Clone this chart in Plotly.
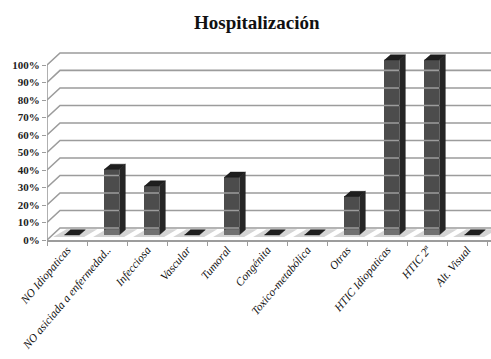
import plotly.graph_objects as go

categories = ["NO Idiopaticas", "NO asiciada a enfermedad..", "Infecciosa", "Vascular",
              "Tumoral", "Congénita", "Toxico-metabólica", "Otras",
              "HTIC Idiopaticas", "HTIC 2ª", "Alt. Visual"]
values = [0.0, 0.375, 0.28, 0.0, 0.33, 0.0, 0.0, 0.22, 1.0, 1.0, 0.0]
y_ticks = [0.0, 0.1, 0.2, 0.3, 0.4, 0.5, 0.6, 0.7, 0.8, 0.9, 1.0]
y_tick_labels = ["0%", "10%", "20%", "30%", "40%", "50%", "60%", "70%", "80%", "90%", "100%"]

# 3D look parameters (data units)
X_MIN, X_MAX = -0.5, 10.6
BAR_W = 0.375
BAR_OFF = 0.12
DX, DY = 0.15, 0.029
BASE = 0.029
WALL_DX, WALL_DY = 0.325, 0.069
GRID_COLOR = "#9c9c9c"

xs = list(range(len(categories)))
fig = go.Figure()

# back wall gridlines with left-side perspective diagonals
for v in y_ticks:
    fig.add_trace(go.Scatter(
        x=[X_MIN, X_MIN + WALL_DX, X_MAX], y=[v, v + WALL_DY, v + WALL_DY],
        mode="lines", line=dict(color=GRID_COLOR, width=1.6),
        hoverinfo="skip", showlegend=False))

# front vertical axis line
fig.add_trace(go.Scatter(x=[X_MIN, X_MIN], y=[0, y_ticks[-1]], mode="lines",
                         line=dict(color=GRID_COLOR, width=1.6),
                         hoverinfo="skip", showlegend=False))

# floor shadows
sx, sy = [], []
for i in xs:
    xl = i + BAR_OFF - BAR_W / 2
    xr = xl + BAR_W
    sx += [xl - 0.28, xr + 0.12, xr + DX + 0.3, xl + DX - 0.1, None]
    sy += [BASE - 0.012, BASE - 0.012, BASE + DY + 0.004, BASE + DY + 0.004, None]
fig.add_trace(go.Scatter(x=sx, y=sy, fill="toself", mode="none",
                         fillcolor="rgba(160,160,160,0.45)",
                         hoverinfo="skip", showlegend=False))

# front faces
fig.add_trace(go.Bar(x=xs, y=values, base=[BASE] * len(xs), width=BAR_W,
                     offset=BAR_OFF - BAR_W / 2,
                     marker=dict(color="#4c4c4c", line=dict(width=0)),
                     showlegend=False))

# side and top faces
side_x, side_y = [], []
top_x, top_y = [], []
for i, v in zip(xs, values):
    xl = i + BAR_OFF - BAR_W / 2
    xr = xl + BAR_W
    top = BASE + v
    if v > 0:
        side_x += [xr, xr + DX, xr + DX, xr, None]
        side_y += [BASE, BASE + DY, top + DY, top, None]
    top_x += [xl, xr, xr + DX, xl + DX, None]
    top_y += [top, top, top + DY, top + DY, None]
fig.add_trace(go.Scatter(x=side_x, y=side_y, fill="toself", mode="lines",
                         line=dict(color="#222222", width=0.5),
                         fillcolor="#262626", hoverinfo="skip", showlegend=False))
fig.add_trace(go.Scatter(x=top_x, y=top_y, fill="toself", mode="lines",
                         line=dict(color="#1a1a1a", width=0.5),
                         fillcolor="#1e1e1e", hoverinfo="skip", showlegend=False))

# dummy trace for label axis
fig.add_trace(go.Scatter(x=[None], y=[None], xaxis="x2", showlegend=False, hoverinfo="skip"))

boundaries = [i - 0.5 for i in range(len(categories) + 1)]

fig.update_layout(
    width=491, height=359,
    margin=dict(l=47, r=0, t=51, b=119),
    paper_bgcolor="white", plot_bgcolor="white",
    title=dict(text="<b>Hospitalización</b>", x=0.523, xref="container",
               y=1 - 22 / 359, yref="container", yanchor="middle", xanchor="center",
               font=dict(family="Liberation Serif", size=19, color="#111111")),
    xaxis=dict(range=[X_MIN, X_MAX], tickvals=boundaries, showticklabels=False,
               ticks="outside", ticklen=4, tickcolor=GRID_COLOR, tickwidth=1.3,
               showline=True, linecolor=GRID_COLOR, linewidth=1.6,
               showgrid=False, zeroline=False, fixedrange=True),
    xaxis2=dict(range=[X_MIN, X_MAX], overlaying="x", anchor="y", side="bottom",
                tickvals=xs, ticktext=categories, tickangle=-50, ticks="",
                showline=False, showgrid=False, zeroline=False,
                tickfont=dict(family="Liberation Serif", size=11.5, style="italic",
                              color="#111111")),
    yaxis=dict(range=[0, 1.08], tickvals=y_ticks, ticktext=y_tick_labels,
               ticks="outside", ticklen=4, tickcolor=GRID_COLOR, tickwidth=1.3,
               showline=False, showgrid=False, zeroline=False,
               tickfont=dict(family="Liberation Serif", size=11, weight="bold",
                             color="#222222")),
    bargap=0,
)

fig.write_html("out.html")
